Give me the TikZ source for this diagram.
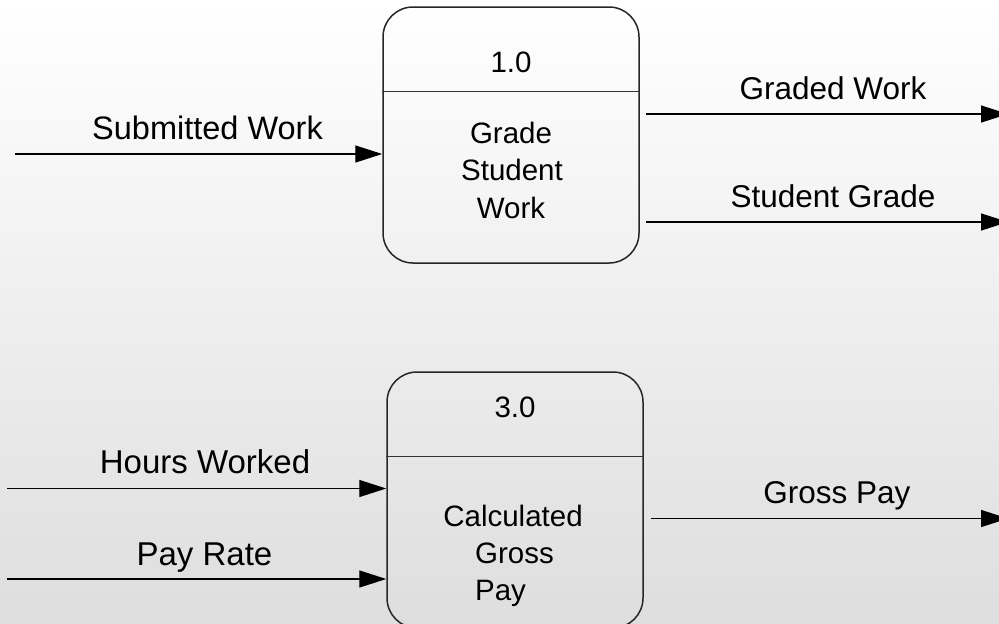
\documentclass[tikz,border=0pt]{standalone}
\usepackage{fontspec}
\setmainfont{Liberation Sans}
\usetikzlibrary{arrows.meta,calc}

\begin{document}
\begin{tikzpicture}[x=1pt,y=-1pt,
  process/.style={draw=black!85, line width=1.5pt, rounded corners=30pt,
    minimum width=256pt, minimum height=256pt, inner sep=0pt},
  divider/.style={draw=black!80, line width=1.3pt},
  flow/.style={draw=black, line width=1.3pt, -{Triangle[length=27pt,width=17pt]}},
  flowlabel/.style={anchor=base, inner sep=0pt, font=\fontsize{31.5}{37}\selectfont},
  inlabel/.style={flowlabel, font=\fontsize{33}{37}\selectfont},
  boxtext/.style={anchor=base, inner sep=0pt, font=\fontsize{29.5}{37}\selectfont},
]
\useasboundingbox (0,0) rectangle (999,624);
\clip (0,0) rectangle (999,624);
\shade[top color=white, bottom color=black!13] (0,0) rectangle (999,624);

% process boxes
\node[process] (p1) at (511,135) {};
\node[process] (p2) at (515,500) {};
\draw[divider] ($(p1.north west)+(0,85)$) -- ($(p1.north east)+(0,85)$);
\draw[divider] ($(p2.north west)+(0,85)$) -- ($(p2.north east)+(0,85)$);

% process 1.0
\node[boxtext] (n1)  at (511,72)  {1.0};
\node[boxtext] (t1a) at (511,143) {Grade};
\node[boxtext] (t1b) at (512,180) {Student};
\node[boxtext] (t1c) at (511,218) {Work};

% process 3.0
\node[boxtext] (n3)  at (515,417)   {3.0};
\node[boxtext] (t3a) at (513,526)   {Calculated};
\node[boxtext] (t3b) at (514.5,563) {Gross};
\node[boxtext] (t3c) at (500.5,600) {Pay};

% data flows into and out of process 1.0
\coordinate (swIn)  at (15,154);
\coordinate (gwOut) at (1008,114);
\coordinate (sgOut) at (1008,222);
\draw[flow] (swIn) -- (swIn -| p1.west);
\draw[flow] ($(p1.east |- gwOut)+(6,0)$) -- (gwOut);
\draw[flow] ($(p1.east |- sgOut)+(6,0)$) -- (sgOut);
\node[flowlabel, font=\fontsize{32.5}{37}\selectfont] (lsw) at (207.5,139) {Submitted Work};
\node[flowlabel] (lgw) at (833,99.5)  {Graded Work};
\node[flowlabel] (lsg) at (833,207)   {Student Grade};

% data flows into and out of process 3.0
\coordinate (hwIn)  at (7,488.5);
\coordinate (prIn)  at (7,579);
\coordinate (gpOut) at (1008,518.5);
\draw[flow] (hwIn) -- (hwIn -| p2.west);
\draw[flow] (prIn) -- (prIn -| p2.west);
\draw[flow] ($(p2.east |- gpOut)+(7,0)$) -- (gpOut);
\node[inlabel] (lhw) at (205,473)   {Hours Worked};
\node[inlabel] (lpr) at (204.5,565) {Pay Rate};
\node[flowlabel] (lgp) at (837,503)   {Gross Pay};
\end{tikzpicture}
\end{document}
